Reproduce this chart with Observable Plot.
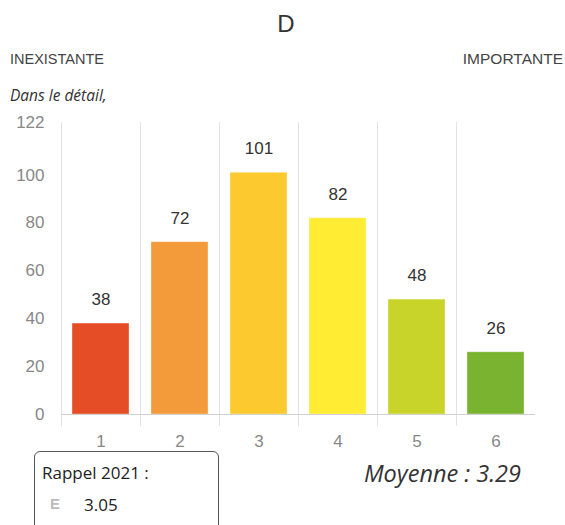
<!DOCTYPE html>
<html><head><meta charset="utf-8">
<script src="https://cdn.jsdelivr.net/npm/d3@7"></script>
<script src="https://cdn.jsdelivr.net/npm/@observablehq/plot@0.6"></script>
<style>
html,body{margin:0;padding:0;background:#fff;width:565px;height:525px;overflow:hidden;position:relative;}
.abs{position:absolute;white-space:nowrap;}
#title{left:0;width:572px;top:10px;text-align:center;font:24px "Liberation Sans",Arial,sans-serif;color:#333;}
#lo{left:10px;top:51px;font:14.5px "Liberation Sans",Arial,sans-serif;color:#444;}
#hi{right:2px;top:50px;font:15.5px "Liberation Sans",Arial,sans-serif;color:#444;}
#detail{left:10px;top:84px;font:italic 15.5px "Open Sans",sans-serif;color:#333;}
#chart{left:0;top:105px;}
#box{left:34px;top:451px;width:183px;height:90px;border:1px solid #555;border-radius:6px;}
#rap{left:42px;top:461px;font:17px "Open Sans",sans-serif;color:#222;}
#eicon{left:50px;top:495px;font:bold 15px "Liberation Sans",Arial,sans-serif;color:#bbb;}
#prev{left:84px;top:493px;font:17px "Open Sans",sans-serif;color:#222;}
#moy{right:44px;top:457px;font:italic 23.5px "Open Sans",sans-serif;color:#333;}
</style></head>
<body>
<div id="title" class="abs">D</div>
<div id="lo" class="abs">INEXISTANTE</div>
<div id="hi" class="abs">IMPORTANTE</div>
<div id="detail" class="abs">Dans le détail,</div>
<div id="chart" class="abs"></div>
<div id="box" class="abs"></div>
<div id="rap" class="abs">Rappel 2021 :</div>
<div id="eicon" class="abs">E</div>
<div id="prev" class="abs">3.05</div>
<div id="moy" class="abs">Moyenne : 3.29</div>
<script>
const categories = ["1","2","3","4","5","6"];
const values = [38, 72, 101, 82, 48, 26];
const colors = ["#e44d26","#f39a3b","#fcc92e","#ffec33","#c9d42a","#79b32f"];
const yTicks = [0,20,40,60,80,100,122];

const data = categories.map((c,i)=>({cat:c, value:values[i], color:colors[i]}));

const chart = Plot.plot({
  width: 565,
  height: 350,
  marginTop: 17,
  marginBottom: 41,
  marginLeft: 61,
  marginRight: 30,
  style: {fontFamily: '"Liberation Sans", Arial, sans-serif', fontSize: "17px", color: "#888", background: "#fff"},
  x: {domain: categories, paddingInner: 0.28, paddingOuter: 0.14, label: null},
  y: {domain: [0,122], label: null},
  marks: [
    Plot.ruleX(categories, {x: d=>d, dx: -39.5, stroke: "#e3e3e3", strokeWidth: 1, insetBottom: -12}),
    Plot.barY(data, {x: "cat", y: "value", fill: "color", stroke: "#fff", strokeOpacity: 0.35}),
    Plot.ruleY([0], {stroke: "#d0d0d0"}),
    Plot.text(data, {x: "cat", y: "value", text: d=>String(d.value), dy: -24, fill: "#333", fontSize: 17}),
    Plot.axisY({ticks: yTicks, tickSize: 0, tickPadding: 17, fill: "#888", fontSize: 17}),
    Plot.axisX({tickSize: 0, tickPadding: 20, fill: "#888", fontSize: 17})
  ]
});
document.getElementById("chart").appendChild(chart);
</script>
</body></html>
